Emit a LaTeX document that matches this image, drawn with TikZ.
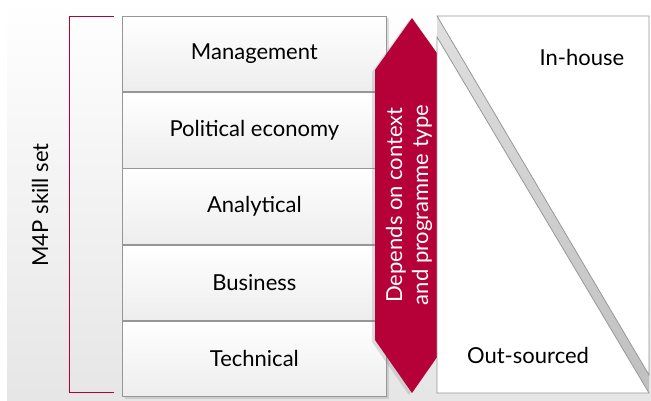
\documentclass[tikz,border=0pt]{standalone}
\usepackage{fontspec}
\setmainfont{Lato}
\usetikzlibrary{positioning}
\usetikzlibrary{shadows}
\definecolor{mpred}{RGB}{181,0,56}
\definecolor{boxline}{RGB}{150,150,150}

\begin{document}
\begin{tikzpicture}[x=1pt,y=-1pt,font=\fontsize{22}{26}\selectfont,
    skillbox/.style={draw=boxline, line width=0.8pt, top color=white, bottom color=gray!14,
      minimum width=264pt, minimum height=75.4pt, inner sep=0pt, anchor=north west,
      drop shadow={opacity=0.25, shadow xshift=3pt, shadow yshift=-2pt}},
    panel/.style={draw=boxline, line width=0.8pt, fill=white}]
    \useasboundingbox (0,0) rectangle (651,401);
    \shade[top color=white, bottom color=gray!20] (7,0) rectangle (651,401);

    % bracket for the skill set
    \draw[mpred, line width=1pt] (114,17) -- (69,17) -- (69,392) -- (114,392);
    \node[rotate=90] (skillset) at (40,205) {M4P skill set};

    % skills
    \node[skillbox] (management) at (122,16) {Management};
    \node[skillbox, below=0pt of management] (political) {Political economy};
    \node[skillbox, below=0pt of political] (analytical) {Analytical};
    \node[skillbox, below=0pt of analytical] (business) {Business};
    \node[skillbox, below=0pt of business] (technical) {Technical};

    % double arrow
    \coordinate (top) at (412,18);
    \coordinate (bottom) at (412,393);
    \fill[mpred, drop shadow={opacity=0.25, shadow xshift=-3pt, shadow yshift=-2pt}]
      (top) -- (449,70) -- (449,340) -- (bottom) -- (375,340) -- (375,70) -- cycle;
    \node[rotate=90, text=white, align=center] (depends) at (409,205)
      {Depends on context\\and programme type};

    % in-house / out-sourced
    \shade[top color=gray!25, bottom color=gray!50]
      (437,16) -- (649,375) -- (649,393) -- (437,37) -- cycle;
    \draw[panel] (437,16) -- (649,16) -- (649,375) -- cycle;
    \draw[panel] (437,37) -- (649,393) -- (437,393) -- cycle;
    \node[] (inhouse) at (582,57) {In-house};
    \node[] (outsourced) at (528,355) {Out-sourced};
\end{tikzpicture}
\end{document}
